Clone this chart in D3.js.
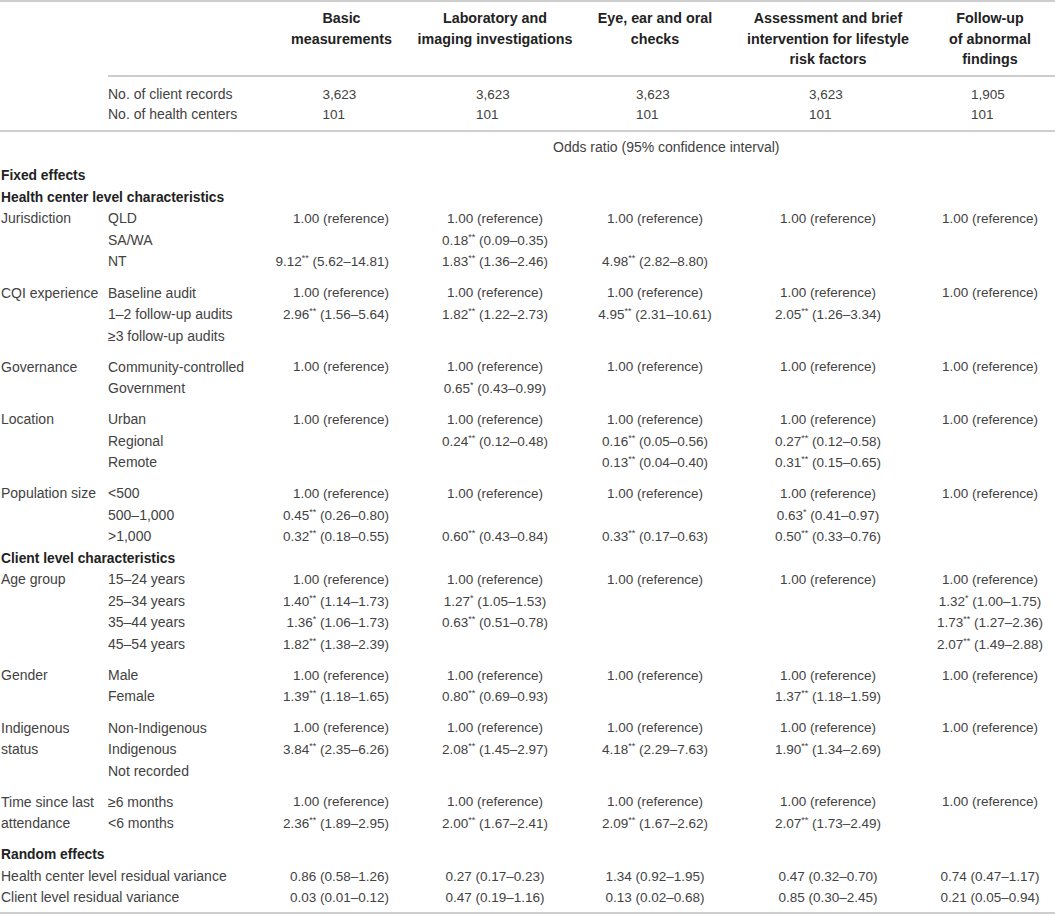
<!DOCTYPE html>
<html lang="en">
<head>
<meta charset="UTF-8">
<title>Multilevel model odds ratios</title>
<script src="https://cdnjs.cloudflare.com/ajax/libs/d3/7.8.5/d3.min.js"></script>
<style>
    body { margin: 0; background: #fff; }
    svg { display: block; font-family: "Liberation Sans", Arial, sans-serif; }
    .cell { font-size: 13.5px; fill: #424242; }
    .label { font-size: 14px; fill: #424242; }
    .bold { font-size: 13.8px; font-weight: bold; fill: #222; }
    .head { font-size: 14.3px; font-weight: bold; fill: #222; }
    .rule { stroke: #bdbdbd; stroke-width: 1.6; }
</style>
</head>
<body>
<div id="table"></div>
<script>
// Column headers (one entry per text line)
const outcomes = [
    ["Basic", "measurements"],
    ["Laboratory and", "imaging investigations"],
    ["Eye, ear and oral", "checks"],
    ["Assessment and brief", "intervention for lifestyle", "risk factors"],
    ["Follow-up", "of abnormal", "findings"]
];
const clientRecords = ["3,623", "3,623", "3,623", "3,623", "1,905"];
const healthCenters = ["101", "101", "101", "101", "101"];
const effectLabel = "Odds ratio (95% confidence interval)";

const REF = "1.00 (reference)";

// Health center level characteristics: [level, basic, lab, eye, assessment, follow-up]
const jurisdiction = [
    ["QLD", REF, REF, REF, REF, REF],
    ["SA/WA", "", "0.18** (0.09–0.35)", "", "", ""],
    ["NT", "9.12** (5.62–14.81)", "1.83** (1.36–2.46)", "4.98** (2.82–8.80)", "", ""]
];
const cqiExperience = [
    ["Baseline audit", REF, REF, REF, REF, REF],
    ["1–2 follow-up audits", "2.96** (1.56–5.64)", "1.82** (1.22–2.73)", "4.95** (2.31–10.61)", "2.05** (1.26–3.34)", ""],
    ["≥3 follow-up audits", "", "", "", "", ""]
];
const governance = [
    ["Community-controlled", REF, REF, REF, REF, REF],
    ["Government", "", "0.65* (0.43–0.99)", "", "", ""]
];
const centerLocation = [
    ["Urban", REF, REF, REF, REF, REF],
    ["Regional", "", "0.24** (0.12–0.48)", "0.16** (0.05–0.56)", "0.27** (0.12–0.58)", ""],
    ["Remote", "", "", "0.13** (0.04–0.40)", "0.31** (0.15–0.65)", ""]
];
const populationSize = [
    ["<500", REF, REF, REF, REF, REF],
    ["500–1,000", "0.45** (0.26–0.80)", "", "", "0.63* (0.41–0.97)", ""],
    [">1,000", "0.32** (0.18–0.55)", "0.60** (0.43–0.84)", "0.33** (0.17–0.63)", "0.50** (0.33–0.76)", ""]
];

// Client level characteristics
const ageGroup = [
    ["15–24 years", REF, REF, REF, REF, REF],
    ["25–34 years", "1.40** (1.14–1.73)", "1.27* (1.05–1.53)", "", "", "1.32* (1.00–1.75)"],
    ["35–44 years", "1.36* (1.06–1.73)", "0.63** (0.51–0.78)", "", "", "1.73** (1.27–2.36)"],
    ["45–54 years", "1.82** (1.38–2.39)", "", "", "", "2.07** (1.49–2.88)"]
];
const gender = [
    ["Male", REF, REF, REF, REF, REF],
    ["Female", "1.39** (1.18–1.65)", "0.80** (0.69–0.93)", "", "1.37** (1.18–1.59)", ""]
];
const indigenousStatus = [
    ["Non-Indigenous", REF, REF, REF, REF, REF],
    ["Indigenous", "3.84** (2.35–6.26)", "2.08** (1.45–2.97)", "4.18** (2.29–7.63)", "1.90** (1.34–2.69)", ""],
    ["Not recorded", "", "", "", "", ""]
];
const timeSinceAttendance = [
    ["≥6 months", REF, REF, REF, REF, REF],
    ["<6 months", "2.36** (1.89–2.95)", "2.00** (1.67–2.41)", "2.09** (1.67–2.62)", "2.07** (1.73–2.49)", ""]
];

// Random effects
const randomEffects = [
    ["Health center level residual variance", "0.86 (0.58–1.26)", "0.27 (0.17–0.23)", "1.34 (0.92–1.95)", "0.47 (0.32–0.70)", "0.74 (0.47–1.17)"],
    ["Client level residual variance", "0.03 (0.01–0.12)", "0.47 (0.19–1.16)", "0.13 (0.02–0.68)", "0.85 (0.30–2.45)", "0.21 (0.05–0.94)"]
];

const sections = [
    { title: "Health center level characteristics", groups: [
        { name: ["Jurisdiction"], rows: jurisdiction },
        { name: ["CQI experience"], rows: cqiExperience },
        { name: ["Governance"], rows: governance },
        { name: ["Location"], rows: centerLocation },
        { name: ["Population size"], rows: populationSize }
    ]},
    { title: "Client level characteristics", groups: [
        { name: ["Age group"], rows: ageGroup },
        { name: ["Gender"], rows: gender },
        { name: ["Indigenous", "status"], rows: indigenousStatus },
        { name: ["Time since last", "attendance"], rows: timeSinceAttendance }
    ]}
];

// ---- layout ----
const width = 1055, height = 915;
const labelX = 1, levelX = 108;
const colEdges = [265, 418, 572, 738, 918, 1062];
const colX = d3.scaleOrdinal()
    .domain(d3.range(outcomes.length))
    .range(d3.range(outcomes.length).map(i => (colEdges[i] + colEdges[i + 1]) / 2));
// first result column is set flush right in the original
const valX = i => i === 0 ? 389 : colX(i);
const valAnchor = i => i === 0 ? "end" : "middle";

const ROW = 21.5, GAP = 9.6;
// body y: slot index + number of group gaps
const yBody = (slot, gaps) => 175.5 + slot * ROW + gaps * GAP;

const svg = d3.select("#table").append("svg")
    .attr("width", width)
    .attr("height", height);

// rules
const rules = [
    { x1: 0, x2: width, y: 1 },
    { x1: levelX, x2: width, y: 76 },
    { x1: 0, x2: width, y: 131 },
    { x1: 0, x2: width, y: 913 }
];
svg.selectAll("line.rule").data(rules).enter().append("line")
    .attr("class", "rule")
    .attr("x1", d => d.x1).attr("x2", d => d.x2)
    .attr("y1", d => d.y).attr("y2", d => d.y);

// column headers
const headY = d3.scaleLinear().domain([0, 1]).range([18, 38.5]);
outcomes.forEach((lines, i) => {
    svg.append("g").selectAll("text").data(lines).enter().append("text")
        .attr("class", "head")
        .attr("x", colX(i))
        .attr("y", (d, j) => headY(j))
        .attr("dy", "0.35em")
        .attr("text-anchor", "middle")
        .text(d => d);
});

// counts: numbers share a left edge, set so the first row is centred
const countRows = [
    { label: "No. of client records", vals: clientRecords, y: 94 },
    { label: "No. of health centers", vals: healthCenters, y: 114 }
];
const countLeft = [];
countRows.forEach((r, ri) => {
    svg.append("text").attr("class", "label")
        .attr("x", levelX).attr("y", r.y).attr("dy", "0.35em")
        .text(r.label);
    const texts = svg.append("g").selectAll("text").data(r.vals).enter().append("text")
        .attr("class", "cell")
        .attr("y", r.y).attr("dy", "0.35em")
        .text(d => d);
    texts.each(function(d, i) {
        if (ri === 0) countLeft[i] = colX(i) - this.getComputedTextLength() / 2 - 2;
        d3.select(this).attr("x", countLeft[i]);
    });
});

svg.append("text").attr("class", "label")
    .attr("x", 553).attr("y", 147).attr("dy", "0.35em")
    .text(effectLabel);

// value cell with superscript asterisks
function valueCell(g, str, ci, y) {
    if (!str) return;
    const m = str.match(/^([\d.]+)(\**)(.*)$/);
    const t = g.append("text").attr("class", "cell")
        .attr("x", valX(ci)).attr("y", y).attr("dy", "0.35em")
        .attr("text-anchor", valAnchor(ci));
    t.append("tspan").text(m[1]);
    if (m[2]) {
        t.append("tspan").attr("font-size", 9).attr("dy", -5).text(m[2]);
        t.append("tspan").attr("dy", 5).text(m[3]);
    } else {
        t.append("tspan").text(m[3]);
    }
}

const body = svg.append("g");
let slot = 0, gaps = 0;

function boldRow(text) {
    body.append("text").attr("class", "bold")
        .attr("x", labelX).attr("y", yBody(slot, gaps)).attr("dy", "0.35em")
        .text(text);
    slot++;
}

boldRow("Fixed effects");
sections.forEach(sec => {
    boldRow(sec.title);
    sec.groups.forEach((grp, gi) => {
        if (gi > 0) gaps++;
        grp.rows.forEach((row, ri) => {
            const y = yBody(slot, gaps);
            if (grp.name[ri]) {
                body.append("text").attr("class", "label")
                    .attr("x", labelX).attr("y", y).attr("dy", "0.35em")
                    .text(grp.name[ri]);
            }
            body.append("text").attr("class", "label")
                .attr("x", levelX).attr("y", y).attr("dy", "0.35em")
                .text(row[0]);
            row.slice(1).forEach((v, ci) => valueCell(body, v, ci, y));
            slot++;
        });
    });
});

gaps++;
boldRow("Random effects");
randomEffects.forEach(row => {
    const y = yBody(slot, gaps);
    body.append("text").attr("class", "label")
        .attr("x", labelX).attr("y", y).attr("dy", "0.35em")
        .text(row[0]);
    row.slice(1).forEach((v, ci) => valueCell(body, v, ci, y));
    slot++;
});
</script>
</body>
</html>
